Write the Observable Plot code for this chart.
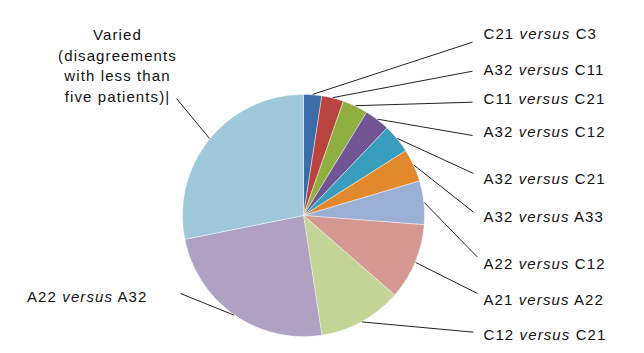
<!DOCTYPE html>
<html>
<head>
<meta charset="utf-8">
<script src="https://cdn.jsdelivr.net/npm/d3@7"></script>
<script src="https://cdn.jsdelivr.net/npm/@observablehq/plot@0.6"></script>
<style>
  html, body { margin: 0; padding: 0; background: #fff; }
  #chart svg text { letter-spacing: 1.1px; }
</style>
</head>
<body>
<div id="chart"></div>
<script>
// ---- Data ----
const categories = [
  "C21 versus C3",
  "A32 versus C11",
  "C11 versus C21",
  "A32 versus C12",
  "A32 versus C21",
  "A32 versus A33",
  "A22 versus C12",
  "A21 versus A22",
  "C12 versus C21",
  "A22 versus A32",
  "Varied\n(disagreements\nwith less than\nfive patients)|"
];
const patients = [5, 6, 7, 7, 8, 9, 12, 21, 23, 50, 58];
const colors = [
  "#3C6DAA", "#B8433F", "#8FB041", "#705494", "#399EBD", "#E3892D",
  "#9CB0D6", "#D59892", "#C2D496", "#B0A0C2", "#9FC8DA"
];

// ---- Layout (pixel units of the frame) ----
const W = 644, H = 353;
const cx = 303, cy = 215, R = 121;
// label anchor, text-anchor and leader-line end for each slice
const labelX =   [483, 483, 483, 483, 483, 483, 483, 483, 483, 147, 117];
const labelY =   [31.7, 68, 97, 130, 177, 215, 262, 298, 333, 295, 64];
const anchors =  ["start","start","start","start","start","start","start","start","start","end","middle"];
const leadX =    [472, 472, 472, 472, 473, 473, 477, 477, 473, 180, 176];
const leadY =    [41.7, 70.7, 101.7, 135, 173, 211.7, 256.7, 293, 331.7, 293, 98];

const arcs = d3.pie().sort(null).value(d => d)(patients);

const slices = arcs.map((a, i) => {
  const pts = [{x: cx, y: cy}];
  const n = Math.max(2, Math.ceil((a.endAngle - a.startAngle) / 0.005));
  for (let k = 0; k <= n; k++) {
    const t = a.startAngle + (a.endAngle - a.startAngle) * k / n;
    pts.push({x: cx + R * Math.sin(t), y: cy - R * Math.cos(t)});
  }
  pts.push({x: cx, y: cy});
  return pts;
});

const leaders = arcs.map((a, i) => {
  const m = (a.startAngle + a.endAngle) / 2;
  return {
    x1: cx + (R + 0.5) * Math.sin(m), y1: cy - (R + 0.5) * Math.cos(m),
    x2: leadX[i], y2: leadY[i]
  };
});

const labels = categories.map((c, i) => ({text: c, x: labelX[i], y: labelY[i], anchor: anchors[i]}));

const marks = [
  ...slices.map((pts, i) => Plot.line(pts, {
    x: "x", y: "y", fill: colors[i], stroke: "white", strokeWidth: 0.6, strokeOpacity: 0.7
  })),
  Plot.link(leaders, {x1: "x1", y1: "y1", x2: "x2", y2: "y2", stroke: "#222", strokeWidth: 1}),
  ...["start", "end", "middle"].map(anc => Plot.text(labels.filter(d => d.anchor === anc), {
    x: "x", y: "y", text: "text", textAnchor: anc, lineAnchor: "middle",
    lineHeight: 1.37, fill: "#111", fontSize: 15
  }))
];

const svg = Plot.plot({
  width: W, height: H,
  marginTop: 0, marginRight: 0, marginBottom: 0, marginLeft: 0,
  x: {domain: [0, W], range: [0, W], axis: null},
  y: {domain: [0, H], range: [0, H], axis: null},
  style: {fontFamily: "'Liberation Sans', Arial, sans-serif", background: "white"},
  marks
});

// italicise "versus" inside the labels
d3.select(svg).selectAll("text").each(function () {
  const s = this.textContent;
  const m = s.match(/^(.*) versus (.*)$/);
  if (m && this.children.length === 0) {
    const el = d3.select(this);
    el.text(null);
    el.append("tspan").text(m[1] + " ");
    el.append("tspan").attr("font-style", "italic").text("versus");
    el.append("tspan").text(" " + m[2]);
  }
});

document.getElementById("chart").append(svg);
</script>
</body>
</html>
